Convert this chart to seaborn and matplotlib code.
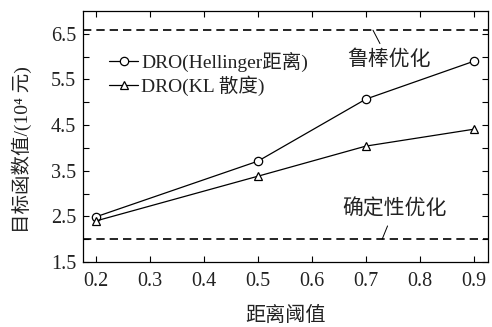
import matplotlib
matplotlib.use("Agg")
import matplotlib.pyplot as plt
import seaborn as sns
import pandas as pd
import numpy as np

sns.set_theme(style="ticks")
plt.rcParams['font.family'] = ['Liberation Serif', 'Noto Sans CJK SC']
plt.rcParams['axes.unicode_minus'] = False

thresholds = [0.2, 0.5, 0.7, 0.9]
hellinger = [2.49, 3.71, 5.07, 5.90]
kl = [2.40, 3.38, 4.04, 4.41]
robust_value = 6.58
deterministic_value = 2.0
series_names = ["DRO(Hellinger距离)", "DRO(KL 散度)"]
x_ticks = [0.2, 0.3, 0.4, 0.5, 0.6, 0.7, 0.8, 0.9]
y_ticks = [1.5, 2.0, 2.5, 3.0, 3.5, 4.0, 4.5, 5.0, 5.5, 6.0, 6.5]
y_labels = ["1.5", "", "2.5", "", "3.5", "", "4.5", "", "5.5", "", "6.5"]

df = pd.DataFrame({
    "x": thresholds * 2,
    "y": hellinger + kl,
    "s": [series_names[0]] * 4 + [series_names[1]] * 4,
})

fig = plt.figure(figsize=(4.92, 3.27), dpi=100)
ax = fig.add_axes([83/492, 1-262/327, (488-83)/492, (262-11)/327])

sns.lineplot(data=df, x="x", y="y", style="s", markers=["o", "^"], dashes=False,
             color="black", ax=ax, linewidth=0.9, markersize=6,
             markerfacecolor="white", markeredgecolor="black", markeredgewidth=0.9)

ax.axhline(robust_value, color="black", linestyle=(0, (5, 3)), linewidth=1.2)
ax.axhline(deterministic_value, color="black", linestyle=(0, (5, 3)), linewidth=1.2)

ax.set_xlim(0.176, 0.926)
ax.set_ylim(1.5, 7.0)
ax.set_xticks(x_ticks)
ax.set_xticklabels([f"{v:.1f}" for v in x_ticks])
ax.set_yticks(y_ticks)
ax.set_yticklabels(y_labels)
ax.tick_params(direction="in", top=True, right=True, length=4, width=0.8,
               labelsize=14.5, colors="black", labelcolor="#222222")
ax.tick_params(axis="x", pad=7)
ax.tick_params(axis="y", pad=5)
for sp in ax.spines.values():
    sp.set_linewidth(0.9)
    sp.set_color("black")

ax.set_xlabel("距离阈值", fontsize=14.5, color="#222222")
ax.set_ylabel("目标函数值/(10⁴ 元)", fontsize=14, color="#222222")
ax.xaxis.set_label_coords(0.501, -0.179)
ax.yaxis.set_label_coords(-0.126, 0.446)

ax.annotate("鲁棒优化", xy=(0.713, robust_value), xytext=(0.742, 5.92),
            fontsize=15, ha="center", va="center", color="#222222",
            arrowprops=dict(arrowstyle="-", color="black", lw=0.7, shrinkA=3, shrinkB=0))
ax.annotate("确定性优化", xy=(0.73, deterministic_value), xytext=(0.752, 2.64),
            fontsize=15, ha="center", va="center", color="#222222",
            arrowprops=dict(arrowstyle="-", color="black", lw=0.7, shrinkA=2, shrinkB=0))

leg = ax.legend(loc="upper left", bbox_to_anchor=(0.045, 0.87), frameon=False,
                fontsize=14, handlelength=1.5, handletextpad=0.15,
                labelspacing=0.2, borderaxespad=0)
for t in leg.get_texts():
    t.set_color("#222222")

fig.savefig("out.png", dpi=100)
